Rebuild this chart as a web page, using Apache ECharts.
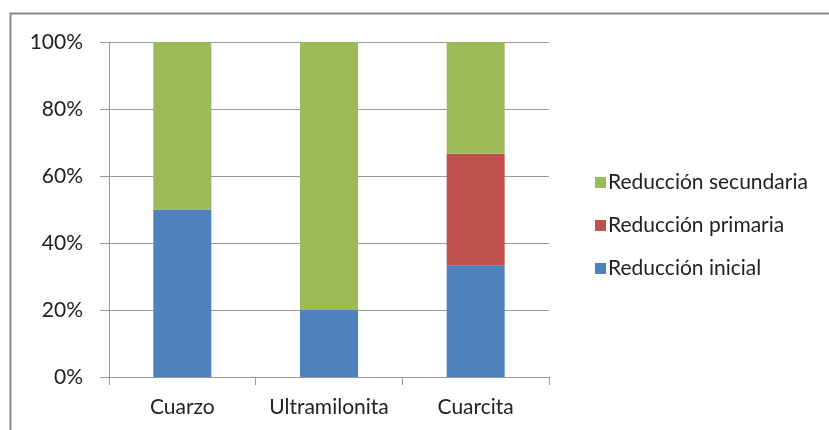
<!DOCTYPE html>
<html><head><meta charset="utf-8">
<script src="https://cdn.jsdelivr.net/npm/echarts@6/dist/echarts.min.js"></script>
<style>html,body{margin:0;padding:0;background:#fff}#c{width:829px;height:430px}</style>
</head><body><div id="c"></div>
<script>
const categories = ['Cuarzo', 'Ultramilonita', 'Cuarcita'];
const inicial = [50, 20, 33.33];
const primaria = [0, 0, 33.33];
const secundaria = [50, 80, 33.34];
const yTicks = ['0%', '20%', '40%', '60%', '80%', '100%'];

const chart = echarts.init(document.getElementById('c'), null, {renderer: 'canvas'});
const font = 'Lato, "Open Sans", sans-serif';
const mk = (name, data, color) => ({
  name, type: 'bar', stack: 's', data, barWidth: 58,
  itemStyle: {color}, emphasis: {disabled: true}
});
chart.setOption({
  animation: false,
  graphic: [{type: 'rect', shape: {x: 10.5, y: 13.5, width: 900, height: 500},
    style: {fill: 'none', stroke: '#888', lineWidth: 2}, silent: true}],
  grid: {left: 109, top: 42, width: 440, height: 335},
  legend: {
    orient: 'vertical', left: 590, top: 167, itemGap: 22,
    itemWidth: 11, itemHeight: 11, icon: 'rect',
    data: ['Reducción secundaria', 'Reducción primaria', 'Reducción inicial'],
    textStyle: {fontFamily: font, fontSize: 21, lineHeight: 21, color: '#222', padding: [0, 0, 0, -3]}
  },
  xAxis: {
    type: 'category', data: categories,
    axisLine: {lineStyle: {color: '#999', width: 1}},
    axisTick: {show: true, length: 8, lineStyle: {color: '#999'}, alignWithLabel: false},
    axisLabel: {fontFamily: font, fontSize: 21, color: '#222', margin: 20, interval: 0, hideOverlap: false}
  },
  yAxis: {
    type: 'value', min: 0, max: 100, interval: 20,
    axisLine: {show: true, lineStyle: {color: '#999'}},
    axisTick: {show: true, length: 9, lineStyle: {color: '#999'}},
    splitLine: {lineStyle: {color: '#999'}},
    axisLabel: {fontFamily: font, fontSize: 21, color: '#222', margin: 26,
      formatter: v => yTicks[Math.round(v / 20)]}
  },
  series: [
    mk('Reducción inicial', inicial, '#4F81BD'),
    mk('Reducción primaria', primaria, '#C0504D'),
    mk('Reducción secundaria', secundaria, '#9BBB59')
  ]
});
</script></body></html>
